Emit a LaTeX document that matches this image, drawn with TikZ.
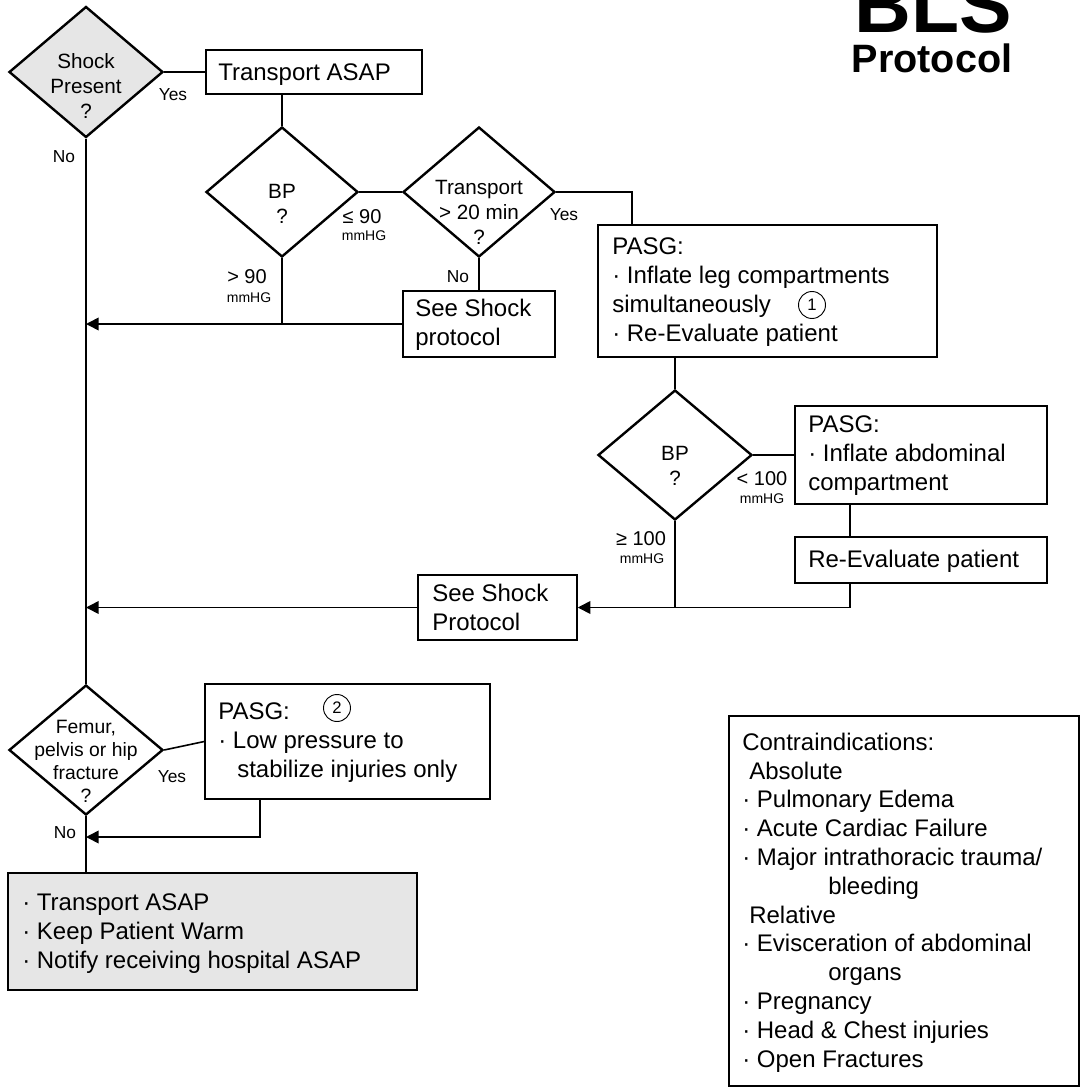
\documentclass[tikz,border=0pt]{standalone}
\usepackage{fontspec}
\setmainfont{Liberation Sans}
\usetikzlibrary{shapes.geometric,arrows.meta}
\definecolor{fillgray}{RGB}{230,230,230}
\begin{document}
\begin{tikzpicture}[x=0.75pt,y=-0.75pt,
  box/.style={draw,line width=1.1pt,inner sep=0,rectangle},
  heavybox/.style={draw,line width=2pt,inner sep=0,rectangle},
  dia/.style={draw,line width=1.8pt,diamond,inner sep=0},
  conn/.style={line width=1.2pt},
  arr/.style={conn,-{Triangle[length=9.5pt,width=9.5pt]}},
  txt/.style={inner sep=0,align=left,anchor=base west,font=\fontsize{18}{21.75}\selectfont},
  ctxt/.style={inner sep=0,align=left,anchor=base west,font=\fontsize{18}{21.6}\selectfont},
  dtxt/.style={inner sep=0,align=center,anchor=base,font=\fontsize{15.5}{18.75}\selectfont},
  ftxt/.style={inner sep=0,align=center,anchor=base,font=\fontsize{14.5}{17.25}\selectfont},
  lab/.style={inner sep=0,anchor=base,font=\fontsize{13}{15}\selectfont},
  val/.style={inner sep=0,anchor=base,font=\fontsize{15}{18}\selectfont},
  unit/.style={inner sep=0,anchor=base,font=\fontsize{10.5}{12}\selectfont},
  num/.style={draw,circle,line width=0.7pt,minimum size=20.25pt,inner sep=0,font=\fontsize{12.5}{14}\selectfont}
]
\useasboundingbox (0,0) rectangle (1083,1088);

% title
\node[anchor=base,inner sep=0,font=\fontsize{59}{60}\selectfont\bfseries] (bls) at (933.5,33) {BLS};
\node[anchor=base,inner sep=0,font=\fontsize{29.7}{32}\selectfont\bfseries] (prot) at (932,73) {Protocol};

% diamonds
\node[dia,fill=fillgray,minimum width=115.5pt,minimum height=98.25pt] (shock) at (86,72) {};
\node[dia,minimum width=114pt,minimum height=97.5pt] (bp1) at (282,192) {};
\node[dia,minimum width=114pt,minimum height=97.5pt] (tr) at (479,192) {};
\node[dia,minimum width=115.5pt,minimum height=97.5pt] (bp2) at (675,455) {};
\node[dia,minimum width=115.5pt,minimum height=97.5pt] (fem) at (86,750) {};

% diamond texts (anchored at the baseline of their last line)
\node[dtxt] (shockt) at (86,118) {Shock\\Present\\?};
\node[dtxt] (bp1t) at (282,223) {BP\\?};
\node[dtxt] (trt) at (479,244) {Transport\\> 20 min\\?};
\node[dtxt] (bp2t) at (675,485) {BP\\?};
\node[ftxt] (femt) at (86,802) {Femur,\\pelvis or hip\\fracture\\?};

% boxes
\node[box,minimum width=162pt,minimum height=33pt] (ta) at (314,72) {};
\node[box,minimum width=114pt,minimum height=49.5pt] (ss1) at (479,324) {};
\node[box,minimum width=254.25pt,minimum height=99pt] (pasg1) at (767.5,291) {};
\node[box,minimum width=189pt,minimum height=73.5pt] (pasg2) at (921,455) {};
\node[box,minimum width=189pt,minimum height=34.5pt] (re) at (921,560) {};
\node[box,minimum width=119.25pt,minimum height=48.75pt] (ss2) at (497.5,607.5) {};
\node[box,minimum width=213.75pt,minimum height=86.25pt] (pasg3) at (347.5,741.5) {};
\node[heavybox,fill=fillgray,minimum width=306.75pt,minimum height=87.75pt] (fin) at (212.5,931.5) {};
\node[heavybox,minimum width=262.5pt,minimum height=277.5pt] (ci) at (904,901) {};

% box texts (anchored at the baseline of their last line)
\node[txt] (tat) at (218,80) {Transport ASAP};
\node[txt] (ss1t) at (415,345) {See Shock\\protocol};
\node[txt] (pasg1t) at (612,341) {PASG:\\· Inflate leg compartments\\simultaneously\\· Re-Evaluate patient};
\node[num] (n1) at (812,305) {1};
\node[txt] (pasg2t) at (808,490) {PASG:\\· Inflate abdominal\\compartment};
\node[txt] (ret) at (808,567) {Re-Evaluate patient};
\node[txt] (ss2t) at (432,630) {See Shock\\Protocol};
\node[txt] (pasg3t) at (218,777) {PASG:\\· Low pressure to\\\hspace*{14.25pt}stabilize injuries only};
\node[num] (n2) at (337,708) {2};
\node[txt] (fint) at (22,968) {· Transport ASAP\\· Keep Patient Warm\\· Notify receiving hospital ASAP};
\node[ctxt] (cit) at (742,1067) {Contraindications:\\\hspace*{5.25pt}Absolute\\· Pulmonary Edema\\· Acute Cardiac Failure\\· Major intrathoracic trauma/\\\hspace*{64.5pt}bleeding\\\hspace*{5.25pt}Relative\\· Evisceration of abdominal\\\hspace*{64.5pt}organs\\· Pregnancy\\· Head \& Chest injuries\\· Open Fractures};

% labels
\node[lab] (yes1) at (173,100) {Yes};
\node[lab] (no1) at (64,162) {No};
\node[val] (le90) at (362,223) {≤ 90};
\node[unit] (le90u) at (364,240) {mmHG};
\node[val] (gt90) at (247,283) {> 90};
\node[unit] (gt90u) at (249,302) {mmHG};
\node[lab] (yes2) at (564,220) {Yes};
\node[lab] (no2) at (458,282) {No};
\node[val] (lt100) at (762,485) {< 100};
\node[unit] (lt100u) at (762,503) {mmHG};
\node[val] (ge100) at (641,545) {≥ 100};
\node[unit] (ge100u) at (642,563) {mmHG};
\node[lab] (yes3) at (172,782) {Yes};
\node[lab] (no3) at (65,838) {No};

% junction coordinates
\coordinate (p1in) at (632,225);
\coordinate (j2) at (850,607.5);
\coordinate (j3) at (260,837);

% connectors
\draw[conn] (shock.east) -- (ta.west);
\draw[conn] (bp1.north |- ta.south) -- (bp1.north);
\draw[conn] (bp1.east) -- (tr.west);
\draw[conn] (tr.east) -| (p1in);
\draw[conn] (tr.south) -- (ss1.north);
\draw[conn] (bp1.south) -- (bp1.south |- ss1.west);
\draw[arr] (ss1.west) -- (ss1.west -| shock.south);
\draw[conn] (bp2.north |- pasg1.south) -- (bp2.north);
\draw[conn] (bp2.east) -- (pasg2.west);
\draw[conn] (pasg2.south -| j2) -- (re.north -| j2);
\draw[arr] (re.south -| j2) -- (j2) -- (ss2.east);
\draw[conn] (bp2.south) -- (bp2.south |- ss2.east);
\draw[arr] (ss2.west) -- (ss2.west -| shock.south);
\draw[conn] (shock.south) -- (fem.north);
\draw[conn] (fem.east) -- (pasg3.west);
\draw[arr] (pasg3.south -| j3) -- (j3) -- (j3 -| fem.south);
\draw[conn] (fem.south) -- (fin.north -| fem.south);
\end{tikzpicture}
\end{document}
